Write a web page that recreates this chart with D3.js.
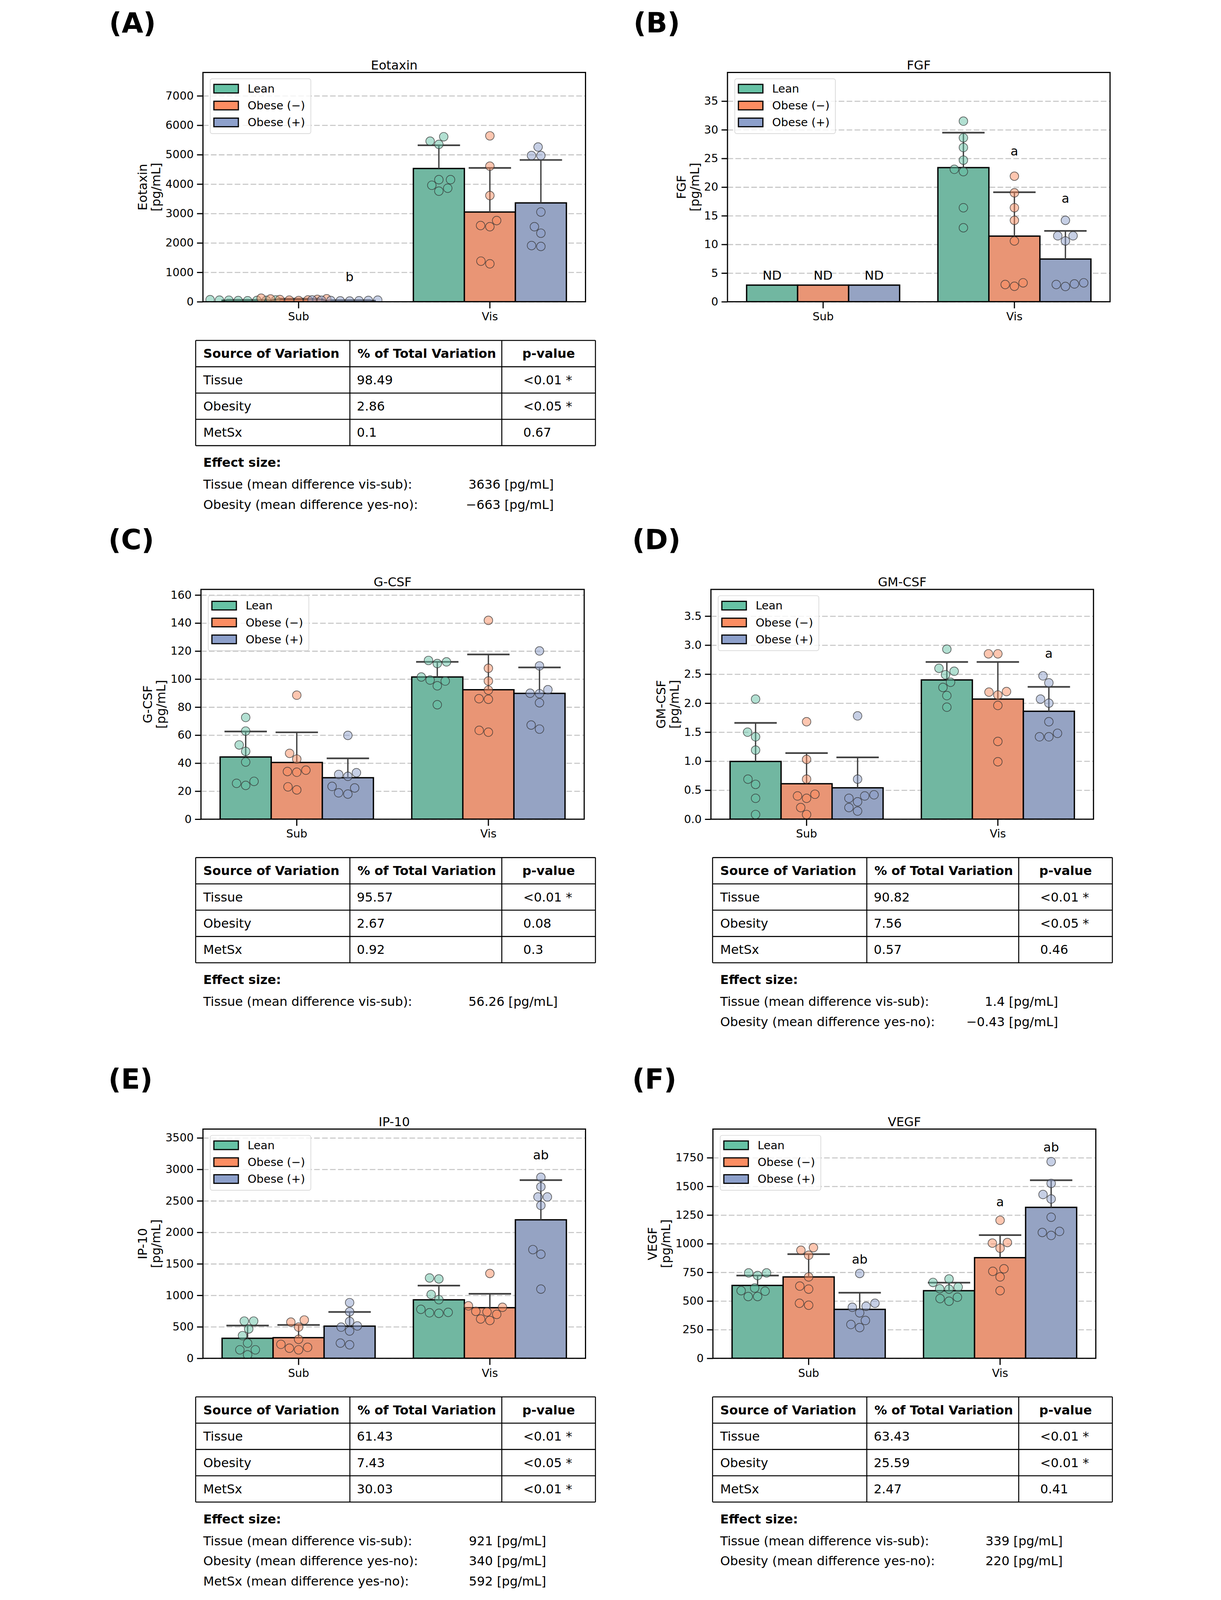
<!DOCTYPE html>
<html>
<head>
<meta charset="utf-8">
<script src="https://cdn.jsdelivr.net/npm/d3@7"></script>
<style>
    html, body { margin: 0; padding: 0; background: #fff; overflow: hidden; }
    svg { display: block; }
    svg text { font-family: 'DejaVu Sans', sans-serif; }
</style>
</head>
<body>
<div id="fig"></div>
<script>
//---------------------------------//
// Data                            //
//---------------------------------//

const tissues = ['Sub', 'Vis'];
const groups = ['Lean', 'Obese (\u2212)', 'Obese (+)'];
const groupColors = ['#66c2a5', '#fc8d62', '#8da0cb'];   // legend / points
const barColors = ['#71b7a1', '#e99575', '#95a3c3'];     // desaturated bars

// (A) Eotaxin
const eotaxinMean = [[51, 78, 42], [4530, 3050, 3360]];
const eotaxinSd = [[12, 27, 12], [790, 1500, 1460]];
const eotaxinPts = [
    [[62, 48, 55, 40, 70, 35, 52, 45], [120, 80, 95, 60, 75, 40, 55, 100], [45, 30, 55, 25, 60, 40, 35, 50]],
    [[5460, 5610, 5350, 4150, 4150, 3960, 3860, 3760], [5640, 4610, 3610, 2760, 2590, 2550, 1380, 1290], [5260, 4970, 4970, 3050, 2550, 2330, 1910, 1880]]
];
const eotaxinTicks = [0, 1000, 2000, 3000, 4000, 5000, 6000, 7000];
const eotaxinMax = 7795;
const eotaxinNotes = [['b', 0, 2, 690]];

// (B) FGF
const fgfMean = [[2.9, 2.9, 2.9], [23.4, 11.45, 7.45]];
const fgfSd = [[null, null, null], [6.1, 7.65, 4.9]];
const fgfPts = [
    [[], [], []],
    [[31.5, 28.6, 26.9, 24.7, 23.1, 22.7, 16.4, 12.9], [21.9, 19.0, 16.4, 14.2, 10.6, 3.0, 2.7, 3.3], [14.2, 11.5, 11.5, 10.6, 3.0, 2.66, 3.1, 3.3]]
];
const fgfTicks = [0, 5, 10, 15, 20, 25, 30, 35];
const fgfMax = 40;
const fgfNotes = [['ND', 0, 0, 3.85], ['ND', 0, 1, 3.85], ['ND', 0, 2, 3.85], ['a', 1, 1, 25.5], ['a', 1, 2, 17.3]];

// (C) G-CSF
const gcsfMean = [[44.4, 40.5, 29.6], [101.5, 92.4, 89.8]];
const gcsfSd = [[18.2, 21.5, 13.8], [10.8, 25.2, 18.5]];
const gcsfPts = [
    [[72.6, 62.9, 53.0, 48.4, 40.8, 27.0, 25.6, 24.1], [88.5, 47.0, 42.9, 35.0, 34.0, 33.5, 23.1, 20.9], [59.8, 33.2, 31.9, 30.6, 23.4, 22.3, 18.8, 17.9]],
    [[113.3, 112.3, 111.1, 101.5, 99.3, 98.6, 95.2, 81.7], [141.9, 107.7, 98.6, 92.1, 86.0, 85.6, 63.4, 62.1], [120.1, 109.4, 92.4, 89.9, 89.6, 83.1, 67.2, 64.3]]
];
const gcsfTicks = [0, 20, 40, 60, 80, 100, 120, 140, 160];
const gcsfMax = 164;
const gcsfNotes = [];

// (D) GM-CSF
const gmcsfMean = [[0.995, 0.611, 0.541], [2.40, 2.07, 1.86]];
const gmcsfSd = [[0.665, 0.529, 0.524], [0.31, 0.64, 0.42]];
const gmcsfPts = [
    [[2.07, 1.50, 1.42, 1.19, 0.69, 0.60, 0.36, 0.08], [1.68, 1.03, 0.69, 0.43, 0.40, 0.36, 0.20, 0.08], [1.78, 0.69, 0.42, 0.40, 0.36, 0.30, 0.20, 0.14]],
    [[2.93, 2.60, 2.55, 2.49, 2.36, 2.27, 2.13, 1.93], [2.85, 2.85, 2.19, 2.20, 2.14, 1.96, 1.34, 0.99], [2.47, 2.35, 2.07, 2.00, 1.68, 1.48, 1.42, 1.42]]
];
const gmcsfTicks = [0, 0.5, 1.0, 1.5, 2.0, 2.5, 3.0, 3.5];
const gmcsfMax = 3.96;
const gmcsfNotes = [['a', 1, 2, 2.78]];

// (E) IP-10
const ip10Mean = [[318, 328, 511], [929, 804, 2199]];
const ip10Sd = [[203, 202, 225], [225, 221, 630]];
const ip10Pts = [
    [[591, 591, 466, 360, 241, 135, 135, 55], [575, 608, 495, 302, 222, 161, 135, 174], [884, 739, 585, 514, 495, 434, 241, 215]],
    [[1276, 1260, 1013, 932, 778, 730, 714, 723], [1347, 833, 810, 746, 736, 698, 624, 601], [2874, 2723, 2562, 2562, 2427, 1726, 1652, 1099]]
];
const ip10Ticks = [0, 500, 1000, 1500, 2000, 2500, 3000, 3500];
const ip10Max = 3640;
const ip10Notes = [['ab', 1, 2, 3157]];

// (F) VEGF
const vegfMean = [[636, 710, 427], [590, 878, 1317]];
const vegfSd = [[86, 199, 145], [70, 197, 237]];
const vegfPts = [
    [[745, 745, 722, 613, 590, 586, 539, 539], [966, 943, 899, 710, 630, 604, 480, 463], [740, 480, 445, 454, 397, 330, 295, 268]],
    [[692, 662, 622, 607, 604, 533, 521, 498], [1204, 1005, 1010, 961, 781, 759, 710, 590], [1716, 1526, 1429, 1390, 1231, 1107, 1098, 1072]]
];
const vegfTicks = [0, 250, 500, 750, 1000, 1250, 1500, 1750];
const vegfMax = 2000;
const vegfNotes = [['ab', 0, 2, 825], ['a', 1, 1, 1328], ['ab', 1, 2, 1805]];

// stats tables
const statHeader = ['Source of Variation', '% of Total Variation', 'p-value'];
const statSources = ['Tissue', 'Obesity', 'MetSx'];
const eotaxinPct = ['98.49', '2.86', '0.1'];
const eotaxinP = ['<0.01 *', '<0.05 *', '0.67'];
const gcsfPct = ['95.57', '2.67', '0.92'];
const gcsfP = ['<0.01 *', '0.08', '0.3'];
const gmcsfPct = ['90.82', '7.56', '0.57'];
const gmcsfP = ['<0.01 *', '<0.05 *', '0.46'];
const ip10Pct = ['61.43', '7.43', '30.03'];
const ip10P = ['<0.01 *', '<0.05 *', '<0.01 *'];
const vegfPct = ['63.43', '25.59', '2.47'];
const vegfP = ['<0.01 *', '<0.01 *', '0.41'];

const effTissue = 'Tissue (mean difference vis-sub):';
const effObesity = 'Obesity (mean difference yes-no):';
const effMetSx = 'MetSx (mean difference yes-no):';
const eotaxinEffect = [[effTissue, '3636 [pg/mL]'], [effObesity, '\u2212663 [pg/mL]']];
const gcsfEffect = [[effTissue, '56.26 [pg/mL]']];
const gmcsfEffect = [[effTissue, '1.4 [pg/mL]'], [effObesity, '\u22120.43 [pg/mL]']];
const ip10Effect = [[effTissue, '921 [pg/mL]'], [effObesity, '340 [pg/mL]'], [effMetSx, '592 [pg/mL]']];
const vegfEffect = [[effTissue, '339 [pg/mL]'], [effObesity, '220 [pg/mL]']];

//---------------------------------//
// Figure object                   //
//---------------------------------//

window.Fig = window.Fig || {};

Fig.init = function() {
    Fig.W = 3125;
    Fig.H = 4836;
    Fig.tickFont = 33.5;
    Fig.labelFont = 37.6;
    Fig.tableFont = 38;
    Fig.ptR = 13;

    Fig.panels = [
        {key: '(A)', name: 'Eotaxin', mean: eotaxinMean, sd: eotaxinSd, pts: eotaxinPts, ticks: eotaxinTicks, ymax: eotaxinMax, notes: eotaxinNotes,
         fmt: d3.format('d'), stats: [eotaxinPct, eotaxinP], effect: eotaxinEffect,
         box: [331, 1487, 219, 912], keyPos: [47, 98], table: [309, 1029], effRight: 1082},
        {key: '(B)', name: 'FGF', mean: fgfMean, sd: fgfSd, pts: fgfPts, ticks: fgfTicks, ymax: fgfMax, notes: fgfNotes,
         fmt: d3.format('d'), stats: null, effect: null,
         box: [1916, 3072, 219, 912], keyPos: [1632, 98], table: null},
        {key: '(C)', name: 'G-CSF', mean: gcsfMean, sd: gcsfSd, pts: gcsfPts, ticks: gcsfTicks, ymax: gcsfMax, notes: gcsfNotes,
         fmt: d3.format('d'), stats: [gcsfPct, gcsfP], effect: gcsfEffect,
         box: [325, 1483, 1781.5, 2476], keyPos: [45, 1660], table: [309, 2592], effRight: 1094},
        {key: '(D)', name: 'GM-CSF', mean: gmcsfMean, sd: gmcsfSd, pts: gmcsfPts, ticks: gmcsfTicks, ymax: gmcsfMax, notes: gmcsfNotes,
         fmt: d3.format('.1f'), stats: [gmcsfPct, gmcsfP], effect: gmcsfEffect,
         box: [1866, 3022, 1781.5, 2476], keyPos: [1628, 1660], table: [1871, 2592], effRight: 1044},
        {key: '(E)', name: 'IP-10', mean: ip10Mean, sd: ip10Sd, pts: ip10Pts, ticks: ip10Ticks, ymax: ip10Max, notes: ip10Notes,
         fmt: d3.format('d'), stats: [ip10Pct, ip10P], effect: ip10Effect,
         box: [331, 1487, 3412.6, 4105.5], keyPos: [45, 3291], table: [309, 4222], effRight: 1059},
        {key: '(F)', name: 'VEGF', mean: vegfMean, sd: vegfSd, pts: vegfPts, ticks: vegfTicks, ymax: vegfMax, notes: vegfNotes,
         fmt: d3.format('d'), stats: [vegfPct, vegfP], effect: vegfEffect,
         box: [1872, 3029, 3412.6, 4105.5], keyPos: [1628, 3291], table: [1871, 4222], effRight: 1058}
    ];

    // the drawing is laid out in reference pixels and scaled to whatever window we get
    let vw = window.innerWidth || Fig.W;
    let vh = window.innerHeight || Fig.H;
    Fig.svg = d3.select('#fig').append('svg')
        .attr('width', vw)
        .attr('height', vh)
        .attr('viewBox', '0 0 ' + Fig.W + ' ' + Fig.H)
        .attr('preserveAspectRatio', 'xMidYMid meet')
        .attr('font-family', 'DejaVu Sans');
    Fig.svg.append('rect').attr('width', Fig.W).attr('height', Fig.H).attr('fill', '#fff');

    Fig.panels.forEach(function(p, i) {
        Fig.draw.panel(p, i);
        if (p.stats) Fig.draw.table(p);
    });
};

Fig.helpers = {
    // seaborn style beeswarm, in pixel space
    swarm: function(values, cx, y, r) {
        let pts = values.map(function(v) { return {v: v, y: y(v), x: cx}; });
        let order = pts.slice().sort(function(a, b) { return b.y - a.y; });
        let placed = [];
        let d = 2 * r;
        order.forEach(function(p) {
            let near = placed.filter(function(q) { return Math.abs(q.y - p.y) < d; });
            let cands = [cx];
            near.forEach(function(q) {
                let dx = Math.sqrt(Math.max(d * d - (q.y - p.y) * (q.y - p.y), 0)) * 1.05;
                cands.push(q.x - dx, q.x + dx);
            });
            cands = cands.map(function(c, k) { return [c, k]; })
                .sort(function(a, b) { return (Math.abs(a[0] - cx) - Math.abs(b[0] - cx)) || (a[1] - b[1]); });
            for (let k = 0; k < cands.length; k++) {
                let c = cands[k][0];
                let ok = near.every(function(q) { return (q.x - c) * (q.x - c) + (q.y - p.y) * (q.y - p.y) >= d * d - 0.5; });
                if (ok) { p.x = c; break; }
            }
            placed.push(p);
        });
        return pts;
    }
};

Fig.draw = {
    panel: function(p, idx) {
        let [x0, x1, y0, y1] = p.box;
        let svg = Fig.svg;
        let g = svg.append('g');

        let xt = d3.scaleBand().domain(tissues).range([x0, x1]).paddingInner(0.2).paddingOuter(0.1);
        let xg = d3.scaleBand().domain(groups).range([0, xt.bandwidth()]);
        let y = d3.scaleLinear().domain([0, p.ymax]).range([y1, y0]);

        let clipId = 'clip' + idx;
        g.append('clipPath').attr('id', clipId)
            .append('rect').attr('x', x0).attr('y', y0).attr('width', x1 - x0).attr('height', y1 - y0);

        // panel key
        svg.append('text')
            .attr('x', p.keyPos[0]).attr('y', p.keyPos[1])
            .attr('font-size', 84).attr('font-weight', 'bold')
            .text(p.key);

        // grid
        let grid = g.append('g')
            .attr('transform', 'translate(' + x0 + ',0)')
            .call(d3.axisLeft(y).tickValues(p.ticks).tickSize(-(x1 - x0)).tickFormat(''));
        grid.select('.domain').remove();
        grid.selectAll('line')
            .attr('stroke', '#c4c4c4').attr('stroke-width', 3).attr('stroke-dasharray', '17,7');

        // flatten bars
        let bars = [];
        tissues.forEach(function(t, ti) {
            groups.forEach(function(gr, gi) {
                bars.push({t: t, ti: ti, g: gr, gi: gi, mean: p.mean[ti][gi], sd: p.sd[ti][gi], pts: p.pts[ti][gi],
                           cx: xt(t) + xg(gr) + xg.bandwidth() / 2});
            });
        });

        g.append('g').attr('clip-path', 'url(#' + clipId + ')')
            .selectAll('rect').data(bars).join('rect')
            .attr('x', function(d) { return xt(d.t) + xg(d.g); })
            .attr('y', function(d) { return y(d.mean); })
            .attr('width', xg.bandwidth())
            .attr('height', function(d) { return y(0) - y(d.mean); })
            .attr('fill', function(d) { return barColors[d.gi]; })
            .attr('stroke', '#000').attr('stroke-width', 4);

        // error bars (upper only)
        let eb = g.append('g').selectAll('g').data(bars.filter(function(d) { return d.sd != null; })).join('g');
        eb.append('line')
            .attr('x1', function(d) { return d.cx; }).attr('x2', function(d) { return d.cx; })
            .attr('y1', function(d) { return y(d.mean); })
            .attr('y2', function(d) { return y(d.mean + d.sd); })
            .attr('stroke', '#404040').attr('stroke-width', 4);
        eb.append('line')
            .attr('x1', function(d) { return d.cx - 64; }).attr('x2', function(d) { return d.cx + 64; })
            .attr('y1', function(d) { return y(d.mean + d.sd); })
            .attr('y2', function(d) { return y(d.mean + d.sd); })
            .attr('stroke', '#404040').attr('stroke-width', 5);

        // swarm points
        let pg = g.append('g').attr('clip-path', 'url(#' + clipId + ')');
        bars.forEach(function(b) {
            let sw = Fig.helpers.swarm(b.pts, b.cx, y, Fig.ptR + 0.5);
            pg.append('g').selectAll('circle').data(sw).join('circle')
                .attr('cx', function(d) { return d.x; })
                .attr('cy', function(d) { return d.y; })
                .attr('r', Fig.ptR)
                .attr('fill', groupColors[b.gi]).attr('fill-opacity', 0.5)
                .attr('stroke', '#333').attr('stroke-opacity', 0.75).attr('stroke-width', 2);
        });

        // letter annotations
        g.append('g').selectAll('text').data(p.notes).join('text')
            .attr('x', function(d) { return xt(tissues[d[1]]) + xg(groups[d[2]]) + xg.bandwidth() / 2; })
            .attr('y', function(d) { return y(d[3]); })
            .attr('text-anchor', 'middle')
            .attr('font-size', 38)
            .text(function(d) { return d[0]; });

        // axes
        let ya = g.append('g')
            .attr('transform', 'translate(' + x0 + ',0)')
            .call(d3.axisLeft(y).tickValues(p.ticks).tickSize(18).tickPadding(10).tickFormat(p.fmt));
        ya.select('.domain').remove();
        ya.attr('font-family', null).attr('font-size', Fig.tickFont);
        ya.selectAll('line').attr('stroke', '#000').attr('stroke-width', 3.5);
        ya.selectAll('text').attr('fill', '#000');

        let xa = g.append('g')
            .attr('transform', 'translate(0,' + y1 + ')')
            .call(d3.axisBottom(xt).tickSize(20).tickPadding(12));
        xa.select('.domain').remove();
        xa.attr('font-family', null).attr('font-size', Fig.tickFont);
        xa.selectAll('line').attr('stroke', '#000').attr('stroke-width', 3.5);
        xa.selectAll('text').attr('fill', '#000');

        // y label, two lines, placed next to the widest tick label
        let tw = d3.max(ya.selectAll('text').nodes(), function(n) { return n.getComputedTextLength(); });
        let lx2 = x0 - 28 - tw - 29;
        let ym = (y0 + y1) / 2;
        [[p.name, lx2 - 40], ['[pg/mL]', lx2]].forEach(function(l) {
            g.append('text')
                .attr('transform', 'translate(' + l[1] + ',' + ym + ') rotate(-90)')
                .attr('text-anchor', 'middle').attr('dy', '0.35em')
                .attr('font-size', Fig.labelFont)
                .text(l[0]);
        });

        // title
        g.append('text')
            .attr('x', (x0 + x1) / 2).attr('y', y0 - 9)
            .attr('text-anchor', 'middle')
            .attr('font-size', Fig.labelFont)
            .text(p.name);

        // legend
        let lg = g.append('g').attr('transform', 'translate(' + (x0 + 22) + ',' + (y0 + 19) + ')');
        lg.append('rect')
            .attr('width', 304).attr('height', 166).attr('rx', 6)
            .attr('fill', '#fff').attr('fill-opacity', 0.8)
            .attr('stroke', '#d6d6d6').attr('stroke-width', 2);
        let rows = lg.selectAll('g.row').data(groups).join('g')
            .attr('class', 'row')
            .attr('transform', function(d, i) { return 'translate(0,' + (30 + i * 51) + ')'; });
        rows.append('rect')
            .attr('x', 11).attr('y', -13).attr('width', 74).attr('height', 26)
            .attr('fill', function(d, i) { return groupColors[i]; })
            .attr('stroke', '#000').attr('stroke-width', 3.5);
        rows.append('text')
            .attr('x', 113).attr('dy', '0.35em')
            .attr('font-size', 34)
            .text(function(d) { return d; });

        // frame
        g.append('rect')
            .attr('x', x0).attr('y', y0).attr('width', x1 - x0).attr('height', y1 - y0)
            .attr('fill', 'none').attr('stroke', '#000').attr('stroke-width', 3.5);
    },

    table: function(p) {
        let [tx, ty] = p.table;
        let cols = [0, 466, 925, 1208];
        let rowH = 79.5;
        let g = Fig.svg.append('g').attr('transform', 'translate(' + tx + ',' + ty + ')');
        let fs = Fig.tableFont;

        // grid lines
        d3.range(5).forEach(function(k) {
            g.append('line').attr('x1', 0).attr('x2', cols[3])
                .attr('y1', k * rowH).attr('y2', k * rowH)
                .attr('stroke', '#000').attr('stroke-width', 3);
        });
        cols.forEach(function(c) {
            g.append('line').attr('x1', c).attr('x2', c)
                .attr('y1', 0).attr('y2', 4 * rowH)
                .attr('stroke', '#000').attr('stroke-width', 3);
        });

        // header
        g.append('g').selectAll('text').data(statHeader).join('text')
            .attr('x', function(d, i) { return i < 2 ? cols[i] + 23 : (cols[2] + cols[3]) / 2; })
            .attr('y', rowH / 2).attr('dy', '0.35em')
            .attr('text-anchor', function(d, i) { return i < 2 ? 'start' : 'middle'; })
            .attr('font-size', fs).attr('font-weight', 'bold')
            .text(function(d) { return d; });

        // body
        let body = statSources.map(function(s, i) { return [s, p.stats[0][i], p.stats[1][i]]; });
        let rows = g.selectAll('g.r').data(body).join('g')
            .attr('class', 'r')
            .attr('transform', function(d, i) { return 'translate(0,' + ((i + 1.5) * rowH) + ')'; });
        rows.selectAll('text').data(function(d) { return d; }).join('text')
            .attr('x', function(d, i) { return [23, cols[1] + 21, cols[2] + 65][i]; })
            .attr('dy', '0.35em')
            .attr('font-size', fs)
            .text(function(d) { return d; });

        // effect size
        g.append('text')
            .attr('x', 23).attr('y', 369).attr('dy', '0.35em')
            .attr('font-size', fs).attr('font-weight', 'bold')
            .text('Effect size:');
        let eff = g.selectAll('g.e').data(p.effect).join('g')
            .attr('class', 'e')
            .attr('transform', function(d, i) { return 'translate(0,' + (435 + i * 61) + ')'; });
        eff.append('text')
            .attr('x', 23).attr('dy', '0.35em').attr('font-size', fs)
            .text(function(d) { return d[0]; });
        eff.append('text')
            .attr('x', p.effRight).attr('dy', '0.35em').attr('font-size', fs)
            .attr('text-anchor', 'end')
            .text(function(d) { return d[1]; });
    }
};

document.addEventListener('DOMContentLoaded', Fig.init);
</script>
</body>
</html>
